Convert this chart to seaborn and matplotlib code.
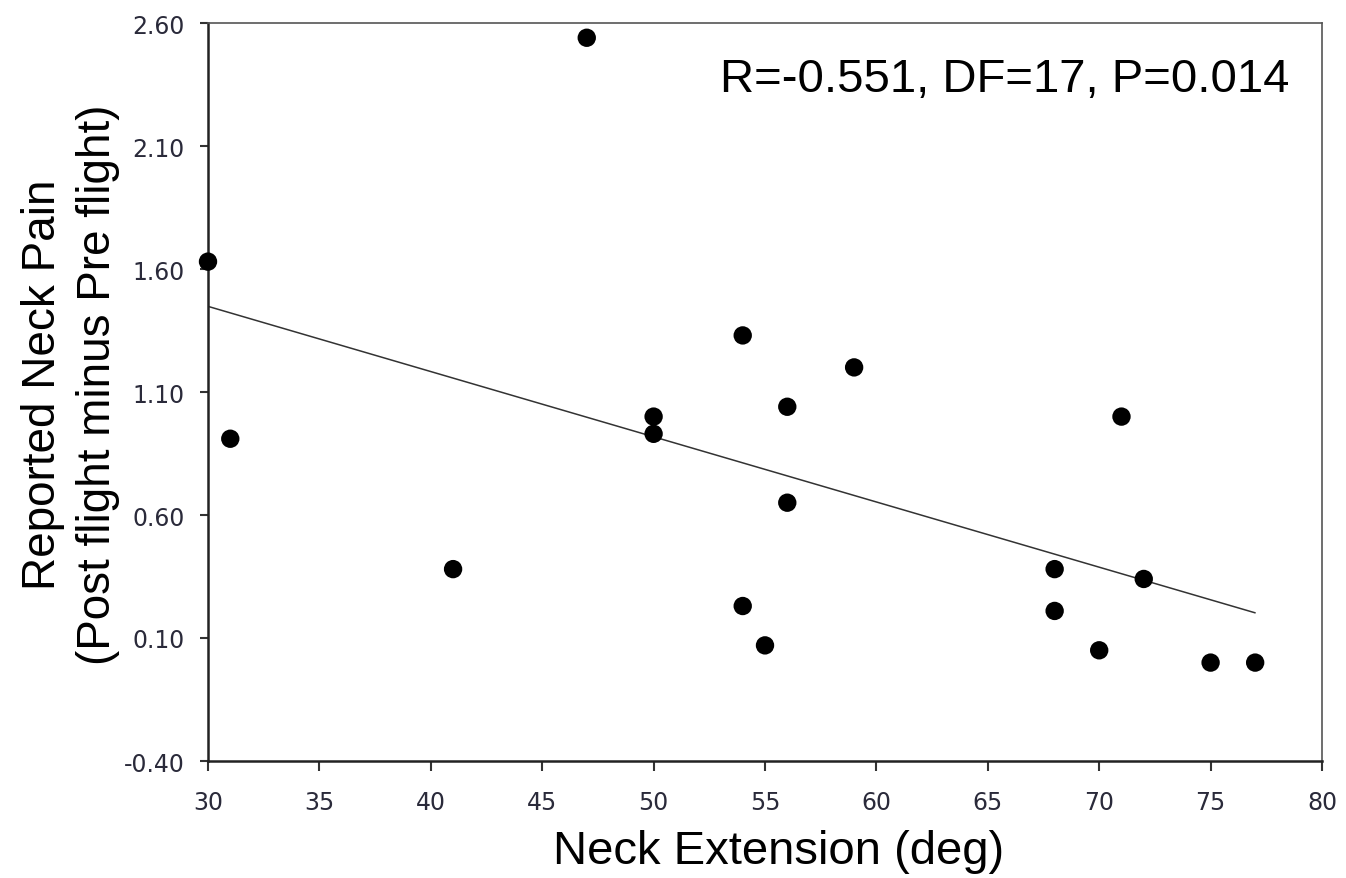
import matplotlib
matplotlib.use("Agg")
import matplotlib.pyplot as plt
import seaborn as sns
import numpy as np
import pandas as pd
from matplotlib.ticker import FormatStrFormatter

# Data
neck_extension = [30, 47, 31, 41, 50, 50, 54, 54, 55, 56, 56, 59, 68, 68, 70, 71, 72, 75, 77]
neck_pain = [1.63, 2.54, 0.91, 0.38, 1.00, 0.93, 1.33, 0.23, 0.07, 1.04, 0.65, 1.20,
             0.38, 0.21, 0.05, 1.00, 0.34, 0.00, 0.00]
x_ticks = [30, 35, 40, 45, 50, 55, 60, 65, 70, 75, 80]
y_ticks = [-0.40, 0.10, 0.60, 1.10, 1.60, 2.10, 2.60]
stats_text = "R=-0.551, DF=17, P=0.014"
x_label = "Neck Extension (deg)"
y_label = "Reported Neck Pain\n(Post flight minus Pre flight)"

df = pd.DataFrame({"ext": neck_extension, "pain": neck_pain})

sns.set_theme(style="ticks")
plt.rcParams["font.family"] = ["Liberation Sans", "DejaVu Sans"]

fig = plt.figure(figsize=(13.46, 8.79), dpi=100)
ax = fig.add_axes([208 / 1346, 1 - 762 / 879, (1322 - 208) / 1346, (762 - 24) / 879])

sns.regplot(data=df, x="ext", y="pain", ax=ax, ci=None,
            scatter_kws=dict(s=175, color="black", edgecolor="none", alpha=1, zorder=3, clip_on=False),
            line_kws=dict(color="#333333", linewidth=1.1, zorder=2))

ax.set_xlim(30, 80)
ax.set_ylim(-0.40, 2.60)
ax.set_xticks(x_ticks)
ax.set_yticks(y_ticks)
ax.yaxis.set_major_formatter(FormatStrFormatter("%.2f"))

for lab in ax.get_xticklabels() + ax.get_yticklabels():
    lab.set_fontfamily("DejaVu Sans")
    lab.set_fontsize(17)
    lab.set_color("#2a2a3a")

ax.tick_params(axis="x", direction="out", length=7, width=1.5, pad=14, color="#333333")
ax.tick_params(axis="y", direction="out", length=6, width=1.5, pad=11, color="#333333")
ax.tick_params(top=False, right=False)

for side in ["left", "bottom"]:
    ax.spines[side].set_linewidth(1.8)
    ax.spines[side].set_color("#222222")
for side in ["top", "right"]:
    ax.spines[side].set_visible(True)
    ax.spines[side].set_linewidth(1.2)
    ax.spines[side].set_color("#555555")

ax.set_xlabel(x_label, fontsize=34, color="black")
ax.set_ylabel(y_label, fontsize=33, color="black", linespacing=1.32)
ax.xaxis.set_label_coords(0.512, -0.092)
ax.yaxis.set_label_coords(-0.079, 0.511)

ax.text(0.971, 0.908, stats_text, transform=ax.transAxes, ha="right", va="baseline",
        fontsize=34, color="black")

fig.savefig("out.png", dpi=100)
